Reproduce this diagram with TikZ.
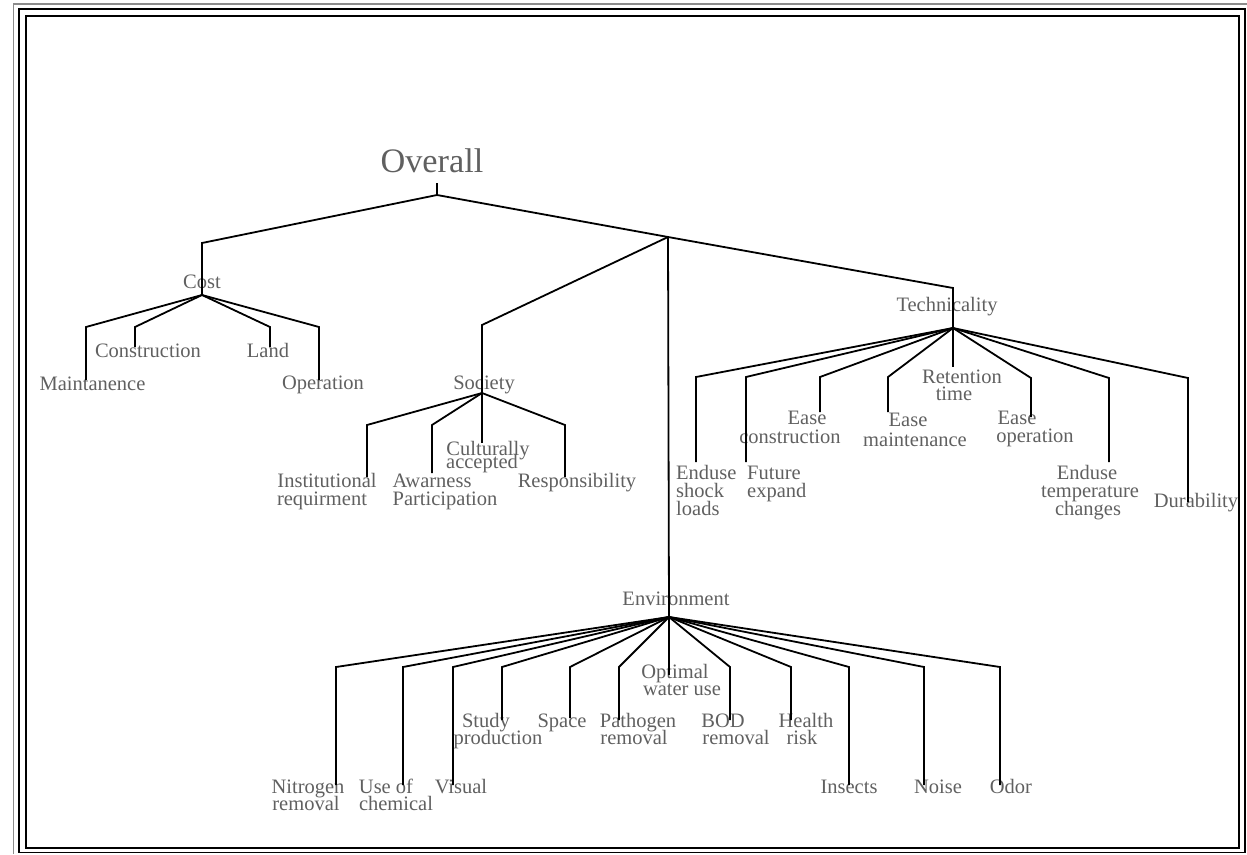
\documentclass[tikz,border=0pt]{standalone}
\usepackage{fontspec}
\setmainfont{Liberation Serif}
\definecolor{txtgray}{RGB}{96,96,96}
\definecolor{framegray}{RGB}{140,140,140}
\begin{document}
\begin{tikzpicture}[x=1pt,y=-1pt,
  lbl/.style={text=txtgray,font=\fontsize{20.5}{20}\selectfont,inner sep=0pt,anchor=base},
  lblw/.style={lbl,anchor=base west},
  link/.style={line width=1.8pt,line join=miter,black}]
\useasboundingbox (0,0) rectangle (1247,854);
% frame
\draw[framegray,line width=1.6pt] (13.5,854) -- (13.5,4) -- (1247,4);
\draw[line width=1.8pt] (19,9) rectangle (1245,852.5);
\draw[line width=1.8pt] (26,16) rectangle (1239,848);

% root
\node[lbl,font=\fontsize{34.3}{36}\selectfont] (overall) at (432,172) {Overall};
\coordinate (ovT) at (437,183);
\coordinate (ovA) at (437,195);
\coordinate (hub) at (668,237);

% Cost
\node[lbl] (cost) at (202,288) {Cost};
\coordinate (costA) at (202,295);
\node[lbl] (maint) at (92.5,390) {Maintanence};
\node[lbl] (constr) at (148,357) {Construction};
\node[lbl] (land) at (268,357) {Land};
\node[lbl] (oper) at (323,389) {Operation};
\coordinate (maintE) at (86,380);
\coordinate (constrE) at (135,347);
\coordinate (landE) at (270,347);
\coordinate (operE) at (319,380);

% Society
\node[lbl] (soc) at (484,389) {Society};
\coordinate (socA) at (482,393);
\node[lbl] (inst1) at (327,487) {Institutional};
\node[lbl] (inst2) at (322,505) {requirment};
\node[lbl] (aw1) at (432,487) {Awarness};
\node[lbl] (aw2) at (445,505) {Participation};
\node[lbl] (cul1) at (488,455) {Culturally};
\node[lbl] (cul2) at (482,468) {accepted};
\node[lbl] (resp) at (577,487) {Responsibility};
\coordinate (instE) at (367,477);
\coordinate (awE) at (432,473);
\coordinate (culE) at (482,443);
\coordinate (respE) at (565,477);

% Technicality
\node[lbl] (tech) at (947,311) {Technicality};
\coordinate (techA) at (953,328);
\node[lblw] (es1) at (676,479) {Enduse};
\node[lblw] (es2) at (676,497) {shock};
\node[lblw] (es3) at (676,515) {loads};
\node[lblw] (fe1) at (747,479) {Future};
\node[lblw] (fe2) at (747,497) {expand};
\node[lbl] (ec1) at (807,424) {Ease};
\node[lbl] (ec2) at (790,443) {construction};
\node[lbl] (em1) at (908,426) {Ease};
\node[lbl] (em2) at (915,446) {maintenance};
\node[lbl] (rt1) at (962,383) {Retention};
\node[lbl] (rt2) at (954,400) {time};
\node[lbl] (eo1) at (1017,424) {Ease};
\node[lbl] (eo2) at (1035,442) {operation};
\node[lbl] (et1) at (1087,479) {Enduse};
\node[lbl] (et2) at (1090,497) {temperature};
\node[lbl] (et3) at (1088,515) {changes};
\node[lbl] (dur) at (1196,507) {Durability};
\coordinate (esE) at (696,462);
\coordinate (feE) at (746,462);
\coordinate (ecE) at (820,412);
\coordinate (emE) at (888,412);
\coordinate (rtE) at (953,367);
\coordinate (eoE) at (1031,417);
\coordinate (etE) at (1109,462);
\coordinate (durE) at (1188,502);

% Environment
\node[lbl] (env) at (676,605) {Environment};
\coordinate (envA) at (669,617);
\node[lbl] (ni1) at (308,793) {Nitrogen};
\node[lbl] (ni2) at (306,810) {removal};
\node[lbl] (uc1) at (386,793) {Use of};
\node[lbl] (uc2) at (396,810) {chemical};
\node[lbl] (vis) at (461,793) {Visual};
\node[lbl] (sp1) at (486,727) {Study};
\node[lbl] (sp2) at (498,744) {production};
\node[lbl] (spa) at (562,727) {Space};
\node[lbl] (pa1) at (638,727) {Pathogen};
\node[lbl] (pa2) at (634,744) {removal};
\node[lbl] (ow1) at (675,678) {Optimal};
\node[lbl] (ow2) at (682,695) {water use};
\node[lbl] (bo1) at (723,727) {BOD};
\node[lbl] (bo2) at (736,744) {removal};
\node[lbl] (he1) at (806,727) {Health};
\node[lbl] (he2) at (802,744) {risk};
\node[lbl] (ins) at (849,793) {Insects};
\node[lbl] (noi) at (938,793) {Noise};
\node[lbl] (odo) at (1011,793) {Odor};
\coordinate (niE) at (336,785);
\coordinate (ucE) at (403,785);
\coordinate (visE) at (453,785);
\coordinate (spE) at (502,720);
\coordinate (spaE) at (570,718);
\coordinate (paE) at (619,720);
\coordinate (owE) at (669,675);
\coordinate (boE) at (730,720);
\coordinate (heE) at (791,720);
\coordinate (insE) at (849,785);
\coordinate (noiE) at (924,785);
\coordinate (odoE) at (1000,785);

% connectors: root
\draw[link] (ovT) -- (ovA) -- (202,243) -- (costA);
\draw[link] (ovA) -- (hub) -- (953,288) -- (techA);
\draw[link] (hub) -- (482,325) -- (socA);
\draw[link] (hub) -- (envA);

% cost
\draw[link] (costA) -- (86,327) -- (maintE);
\draw[link] (costA) -- (135,327) -- (constrE);
\draw[link] (costA) -- (270,327) -- (landE);
\draw[link] (costA) -- (319,327) -- (operE);

% society
\draw[link] (socA) -- (367,425) -- (instE);
\draw[link] (socA) -- (432,425) -- (awE);
\draw[link] (socA) -- (culE);
\draw[link] (socA) -- (565,425) -- (respE);

% technicality
\draw[link] (techA) -- (696,377) -- (esE);
\draw[link] (techA) -- (746,377) -- (feE);
\draw[link] (techA) -- (820,377) -- (ecE);
\draw[link] (techA) -- (888,377) -- (emE);
\draw[link] (techA) -- (rtE);
\draw[link] (techA) -- (1031,378) -- (eoE);
\draw[link] (techA) -- (1109,378) -- (etE);
\draw[link] (techA) -- (1188,378) -- (durE);

% environment
\draw[link] (envA) -- (336,667) -- (niE);
\draw[link] (envA) -- (403,667) -- (ucE);
\draw[link] (envA) -- (453,667) -- (visE);
\draw[link] (envA) -- (502,667) -- (spE);
\draw[link] (envA) -- (570,667) -- (spaE);
\draw[link] (envA) -- (619,667) -- (paE);
\draw[link] (envA) -- (owE);
\draw[link] (envA) -- (730,667) -- (boE);
\draw[link] (envA) -- (791,667) -- (heE);
\draw[link] (envA) -- (849,667) -- (insE);
\draw[link] (envA) -- (924,667) -- (noiE);
\draw[link] (envA) -- (1000,667) -- (odoE);
\end{tikzpicture}
\end{document}
